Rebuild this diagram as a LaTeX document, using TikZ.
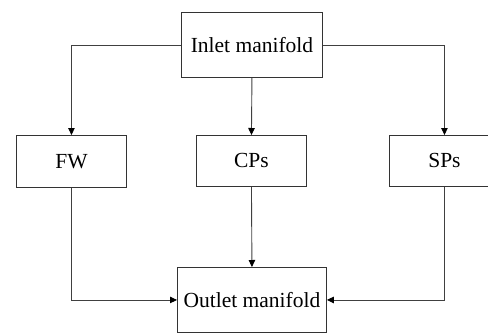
\documentclass[tikz,border=0pt]{standalone}
\usepackage{fontspec}
\setmainfont{Liberation Serif}
\usetikzlibrary{arrows.meta}
\begin{document}
\begin{tikzpicture}[x=1pt,y=-1pt,
  box/.style={draw=black!80,line width=0.9pt,minimum width=#1,inner sep=0pt,anchor=north west},
  conn/.style={draw=black!75,line width=0.9pt,-{Triangle[length=7pt,width=6.5pt,fill=black,color=black]}},
  lab/.style={font=\fontsize{21.5}{25}\selectfont}]
\useasboundingbox (0,0) rectangle (488,335);
\node[box=141pt,minimum height=65pt,lab] (inlet) at (181,12) {Inlet manifold};
\node[box=110pt,minimum height=52pt,lab] (fw) at (16,135) {FW};
\node[box=110pt,minimum height=51pt,lab] (cps) at (196,135) {CPs};
\node[box=110pt,minimum height=51pt,lab] (sps) at (389,135) {SPs};
\node[box=149pt,minimum height=65pt,lab] (outlet) at (177,267) {Outlet manifold};
\draw[conn] (inlet.west) -| (fw.north);
\draw[conn] (inlet.south) -- (cps.north);
\draw[conn] (inlet.east) -| (sps.north);
\draw[conn] (fw.south) |- (outlet.west);
\draw[conn] (cps.south) -- (outlet.north);
\draw[conn] (sps.south) |- (outlet.east);
\end{tikzpicture}
\end{document}
